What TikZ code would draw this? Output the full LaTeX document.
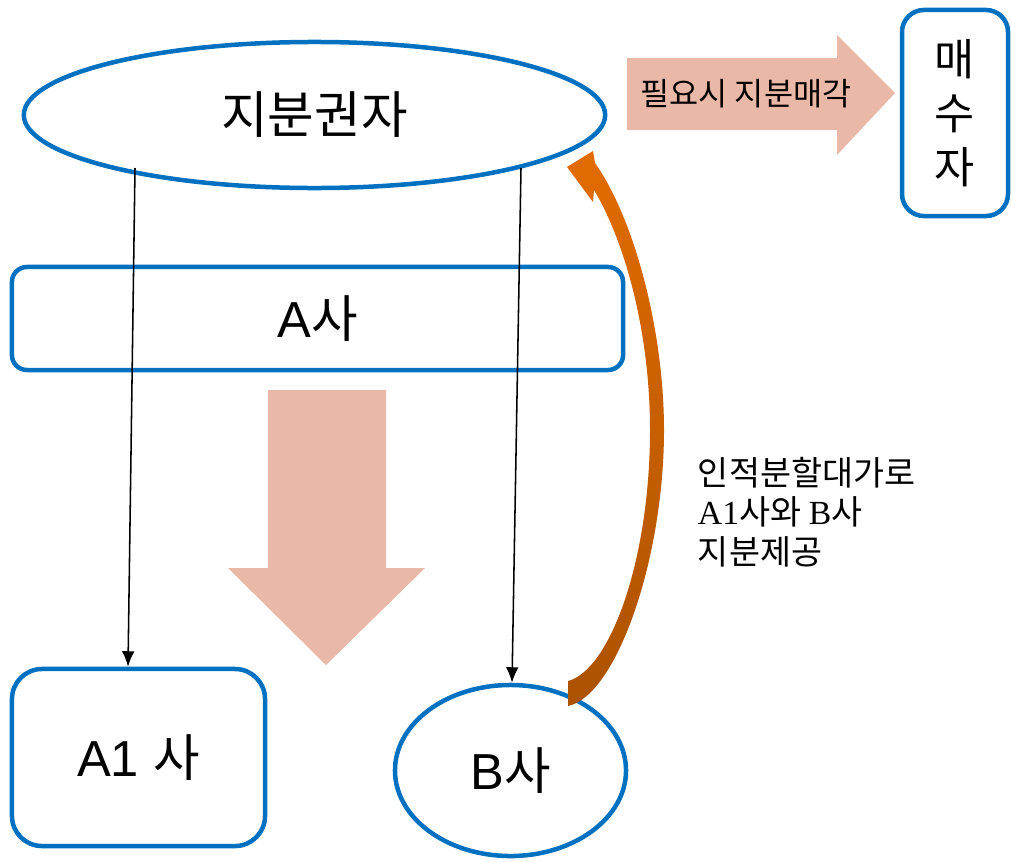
\documentclass[tikz,border=0pt]{standalone}
\usepackage{fontspec}
\setmainfont{Liberation Sans}
\newfontfamily\krfont{Noto Sans CJK KR}
\newfontfamily\latinserif{Liberation Serif}
\usetikzlibrary{shapes.geometric,arrows.meta}
\definecolor{boxblue}{HTML}{0070C0}
\definecolor{blockpink}{HTML}{EAB8A7}
\definecolor{curveorange}{HTML}{E26C00}
\definecolor{curvebrown}{HTML}{AB5200}
\newcommand{\kr}[1]{{\krfont #1}}

\begin{document}
\begin{tikzpicture}
    [
    x=0.025cm, y=-0.025cm,
    holder/.style={ellipse,draw=boxblue,line width=3.2pt,inner sep=0pt},
    company/.style={rectangle,rounded corners=#1,draw=boxblue,line width=3.2pt,inner sep=0pt},
    company/.default=0.4cm,
    big/.style={font=\fontsize{36}{42}\selectfont},
    link/.style={-{Latex[length=11pt,width=9pt]},line width=1.1pt},
    block/.style={fill=blockpink,draw=none}
    ]
    \useasboundingbox (0,0) rectangle (1011,861);
    \node (holder) at (314.5,115) [holder, minimum width=14.53cm, minimum height=3.65cm, big] {\kr{지분권자}};
    \node (buyer) at (955,113) [company=0.55cm, minimum width=2.65cm, minimum height=5.15cm, align=center,
      font=\krfont\fontsize{31}{38.4}\selectfont] {매\\수\\자};
    \node (firmA) at (317.5,318.5) [company=0.375cm, minimum width=15.275cm, minimum height=2.575cm, big] {A\kr{사}};
    \node (firmA1) at (138.5,757.5) [company=0.75cm, minimum width=6.325cm, minimum height=4.425cm, big] {A1 \kr{사}};
    \node (firmB) at (510.5,770.5) [holder, minimum width=5.775cm, minimum height=4.275cm, big] {B\kr{사}};
    % block arrows
    \fill [block] (627,58) -- (837,58) -- (837,35) -- (895,93) -- (837,155) -- (837,130) -- (627,130) -- cycle;
    \node (sell) at (746,94) [font=\krfont\fontsize{22.5}{26}\selectfont] {필요시 지분매각};
    \fill [block] (268,390) -- (386,390) -- (386,568) -- (425,568) -- (326,665) -- (228,568) -- (268,568) -- cycle;
    % stake lines
    \coordinate (s1) at (135,168);
    \coordinate (s2) at (521,168);
    \draw [link] (s1) -- (firmA1.north -| 128,0);
    \draw [link] (s2) -- (firmB.north -| 512,0);
    % curved arrow back to holder
    \shade [top color=curveorange, bottom color=curvebrown]
      (568,706) .. controls (616,696) and (664,560) .. (664,430)
      .. controls (664,330) and (634,218) .. (595,163)
      -- (593,151) -- (567,167) -- (593,202) -- (594,190)
      .. controls (624,240) and (650,330) .. (650,430)
      .. controls (650,560) and (610,670) .. (568,681) -- cycle;
    \node (note) at (693,512) [anchor=west, align=left, font=\krfont\fontsize{24}{28}\selectfont]
      {인적분할대가로\\{\latinserif A1}사와 {\latinserif B}사\\지분제공};
  \end{tikzpicture}
\end{document}
